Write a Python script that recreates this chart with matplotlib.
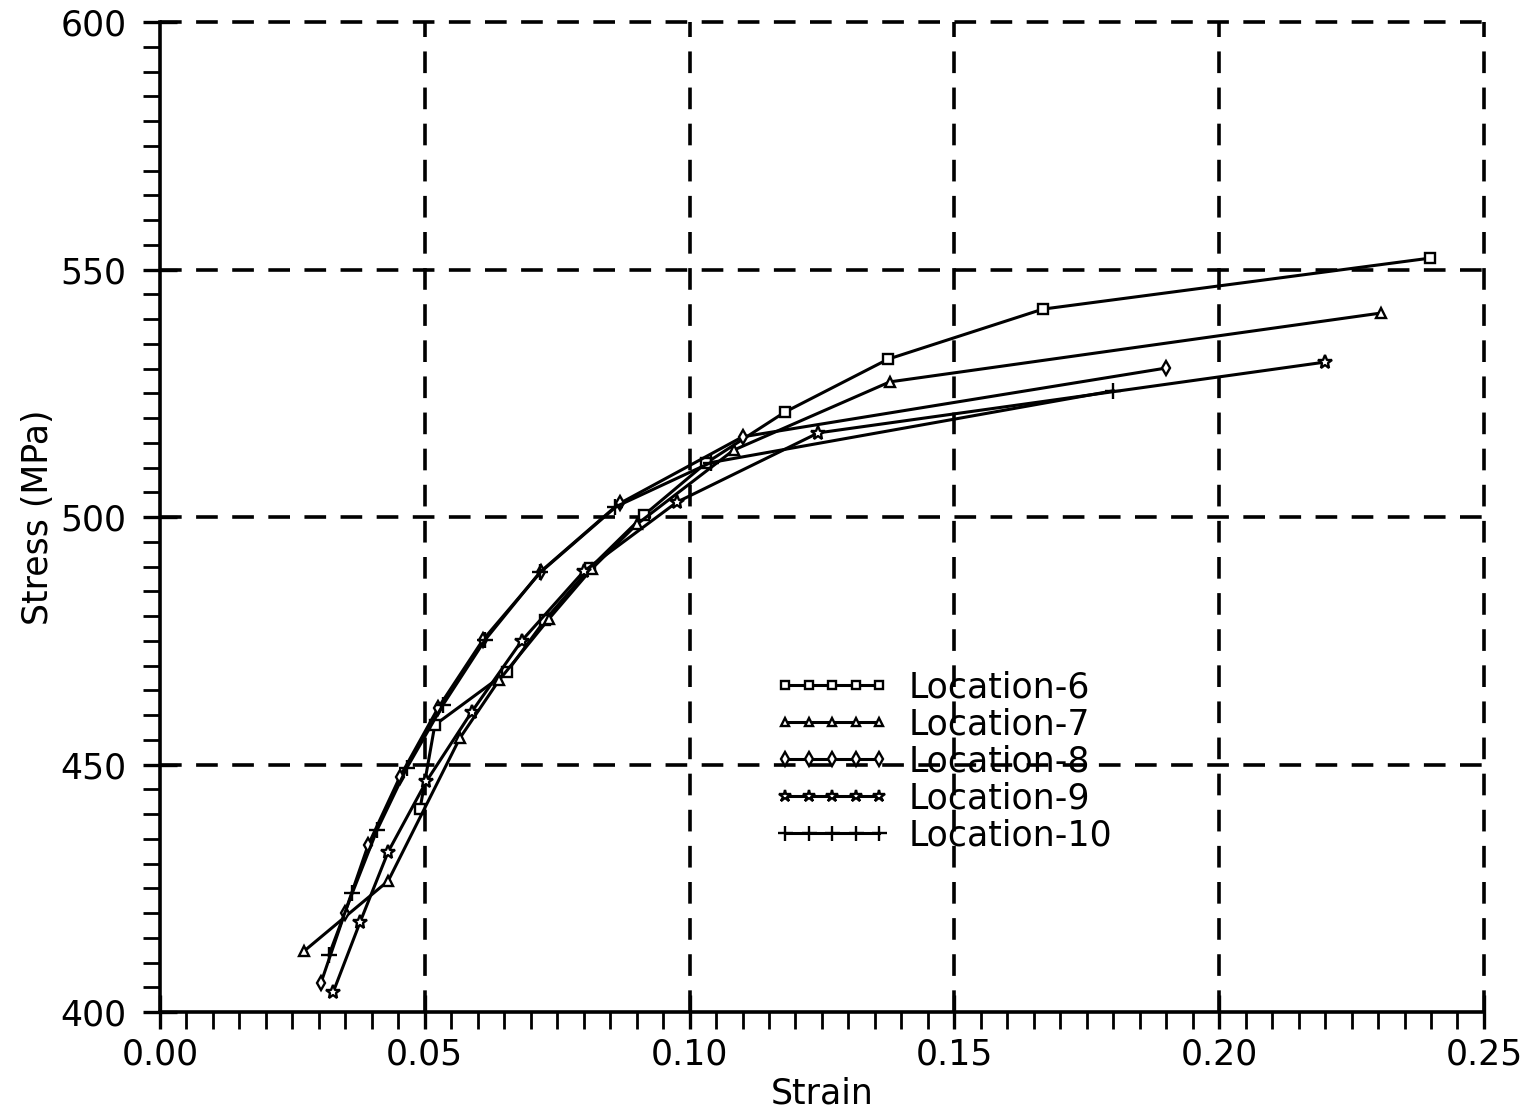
import matplotlib
matplotlib.use("Agg")
import matplotlib.pyplot as plt
from matplotlib.ticker import MultipleLocator, FormatStrFormatter

# ---- data ----
loc6_strain = [0.0491, 0.0519, 0.0655, 0.0727, 0.0812, 0.0914, 0.1031, 0.1180, 0.1375, 0.1667, 0.2398]
loc6_stress = [441.0, 458.0, 468.7, 479.2, 489.7, 500.4, 510.9, 521.2, 531.9, 542.0, 552.3]

loc7_strain = [0.0272, 0.0431, 0.0566, 0.0640, 0.0735, 0.0815, 0.0900, 0.1083, 0.1378, 0.2305]
loc7_stress = [412.3, 426.5, 455.3, 467.0, 479.5, 489.5, 498.5, 513.5, 527.3, 541.2]

loc8_strain = [0.0304, 0.0349, 0.0393, 0.0453, 0.0525, 0.0610, 0.0719, 0.0869, 0.1100, 0.1900]
loc8_stress = [405.9, 420.0, 433.7, 447.5, 461.4, 475.2, 488.9, 502.8, 516.2, 530.1]

loc9_strain = [0.0327, 0.0378, 0.0431, 0.0503, 0.0589, 0.0683, 0.0800, 0.0976, 0.1243, 0.2200]
loc9_stress = [404.0, 418.2, 432.4, 446.6, 460.7, 475.0, 489.0, 503.0, 517.0, 531.3]

loc10_strain = [0.0319, 0.0363, 0.0410, 0.0466, 0.0534, 0.0614, 0.0718, 0.0859, 0.1040, 0.1800]
loc10_stress = [411.5, 424.0, 436.8, 449.3, 462.0, 475.2, 488.9, 502.0, 511.0, 525.5]

labels = ["Location-6", "Location-7", "Location-8", "Location-9", "Location-10"]
x_ticks = [0.00, 0.05, 0.10, 0.15, 0.20, 0.25]
y_ticks = [400, 450, 500, 550, 600]

series = [
    (loc6_strain, loc6_stress, "s", 6.5),
    (loc7_strain, loc7_stress, "^", 6.5),
    (loc8_strain, loc8_stress, "d", 7.5),
    (loc9_strain, loc9_stress, "*", 10),
    (loc10_strain, loc10_stress, "+", 12),
]

FS = 25
plt.rcParams['font.family'] = ['DejaVu Sans']
fig = plt.figure(figsize=(15.25, 11.12), dpi=100)
ax = fig.add_axes([0.1049, 0.0899, 0.8682, 0.8903])

for (xs, ys, mk, ms), lab in zip(series, labels):
    ax.plot(xs, ys, color="black", lw=2.2, marker=mk, ms=ms, mfc="white",
            mec="black", mew=1.7, label=lab, zorder=3)

ax.set_xlim(0, 0.25)
ax.set_ylim(400, 600)
ax.set_xticks(x_ticks)
ax.set_yticks(y_ticks)
ax.xaxis.set_major_formatter(FormatStrFormatter("%.2f"))
ax.xaxis.set_minor_locator(MultipleLocator(0.005))
ax.yaxis.set_minor_locator(MultipleLocator(5))

ax.tick_params(axis="both", which="major", direction="inout", length=24, width=2.4,
               labelsize=FS)
ax.tick_params(axis="x", which="major", pad=6)
ax.tick_params(axis="y", which="major", pad=12)
ax.tick_params(axis="both", which="minor", direction="out", length=12, width=2.0)

for s in ["top", "right"]:
    ax.spines[s].set_visible(False)
for s in ["left", "bottom"]:
    ax.spines[s].set_linewidth(2.6)

dash = (0, (6, 4))
for xv in x_ticks[1:]:
    ax.axvline(xv, color="black", lw=2.6, ls=dash, zorder=1, clip_on=False)
for yv in y_ticks[1:]:
    ax.axhline(yv, color="black", lw=2.6, ls=dash, zorder=1, clip_on=False)

ax.set_xlabel("Strain", fontsize=FS, labelpad=4)
ax.set_ylabel("Stress (MPa)", fontsize=FS, labelpad=4)

leg = ax.legend(loc="upper left", bbox_to_anchor=(0.4645, 0.345), frameon=False,
                fontsize=FS, numpoints=5, handlelength=3.3, handletextpad=0.55,
                labelspacing=0.085, borderaxespad=0, borderpad=0)
for h in leg.legend_handles:
    h.set_markersize(h.get_markersize() * 0.9)

fig.savefig("out.png", dpi=100)
